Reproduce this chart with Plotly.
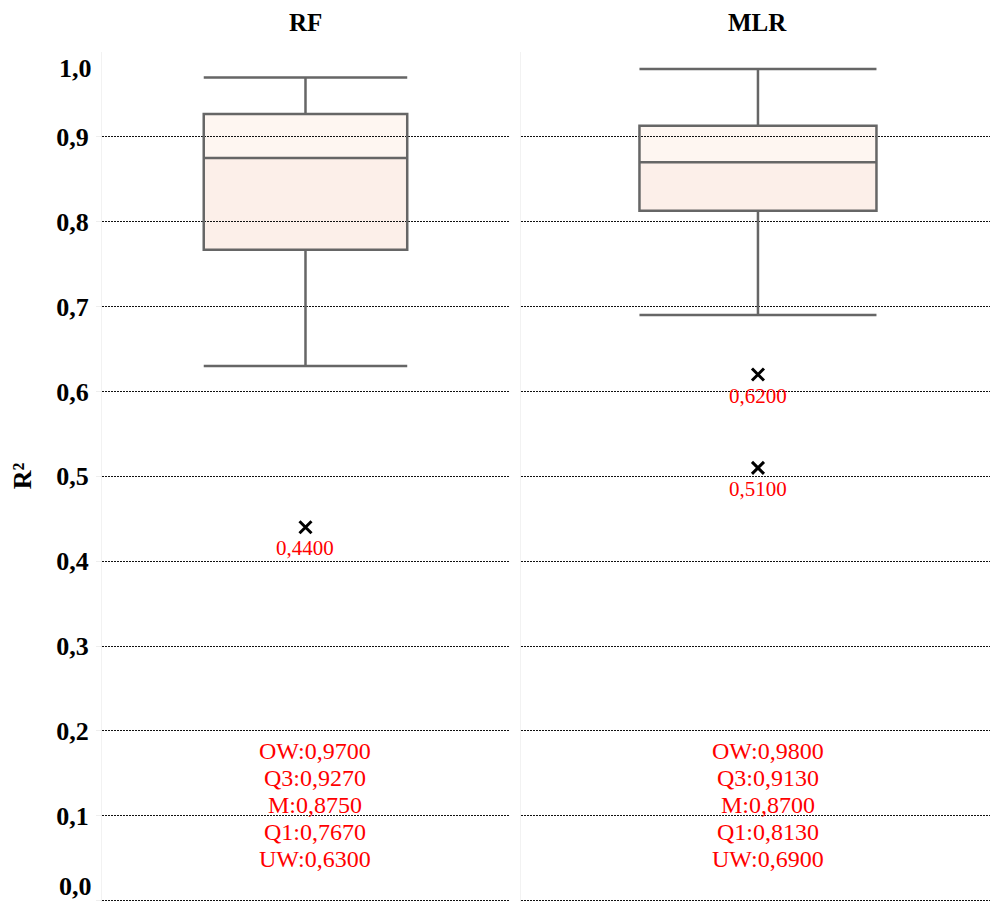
import plotly.graph_objects as go

# Summary statistics of R² per model
models = ["RF", "MLR"]
upper_whisker = [0.97, 0.98]
q3 = [0.927, 0.913]
median = [0.875, 0.870]
q1 = [0.767, 0.813]
lower_whisker = [0.63, 0.69]
outliers = [[0.44], [0.62, 0.51]]

y_ticks = [0.0, 0.1, 0.2, 0.3, 0.4, 0.5, 0.6, 0.7, 0.8, 0.9]

SERIF = "Liberation Serif, Times New Roman, serif"
LINE = "#666666"
FILL_LOW = "#fcefe9"
FILL_HIGH = "#fef6f1"
BOX_W = 0.5


def fmt(v, nd=4):
    return f"{v:.{nd}f}".replace(".", ",")


fig = go.Figure()
domains = [[0.0, 0.4583], [0.4718, 1.0]]
# the second panel runs slightly past the right edge of the page
x_ranges = [[-0.5, 0.5], [-0.5, 0.4895]]

for i, name in enumerate(models):
    xa = "x" if i == 0 else f"x{i + 1}"
    ya = "y" if i == 0 else f"y{i + 1}"
    fig.add_trace(go.Box(
        x=[0], q1=[q1[i]], median=[median[i]], q3=[q3[i]],
        lowerfence=[lower_whisker[i]], upperfence=[upper_whisker[i]],
        width=BOX_W, whiskerwidth=1, boxpoints=False,
        fillcolor="rgba(0,0,0,0)", line=dict(color=LINE, width=2.5),
        xaxis=xa, yaxis=ya, showlegend=False, hoverinfo="skip",
    ))
    # two-tone box body under the gridlines
    for lo, hi, col in [(q1[i], median[i], FILL_LOW), (median[i], q3[i], FILL_HIGH)]:
        fig.add_shape(type="rect", xref=xa, yref=ya, x0=-BOX_W / 2, x1=BOX_W / 2,
                      y0=lo, y1=hi, fillcolor=col, line=dict(width=0), layer="below")
    fig.add_trace(go.Scatter(
        x=[0] * len(outliers[i]), y=outliers[i], mode="markers",
        marker=dict(symbol="x-thin", size=12, line=dict(color="black", width=3)),
        xaxis=xa, yaxis=ya, showlegend=False, hoverinfo="skip",
    ))
    for v in outliers[i]:
        fig.add_annotation(x=0, y=v, xref=xa, yref=ya, text=fmt(v), showarrow=False,
                           yanchor="top", yshift=-7, font=dict(family=SERIF, size=21, color="red"))
    # summary lines, stacked with a fixed 27px pitch
    stats = [f"OW:{fmt(upper_whisker[i])}", f"Q3:{fmt(q3[i])}", f"M:{fmt(median[i])}",
             f"Q1:{fmt(q1[i])}", f"UW:{fmt(lower_whisker[i])}"]
    for k, line in enumerate(stats):
        fig.add_annotation(x=0, y=0.113, xref=xa, yref=ya, text=line, showarrow=False,
                           yanchor="middle", xshift=10, yshift=(2 - k) * 27,
                           font=dict(family=SERIF, size=24, color="red"))
    fig.add_annotation(x=0, y=1, xref=xa, yref="paper", text=f"<b>{name}</b>",
                       showarrow=False, yanchor="middle", yshift=30,
                       font=dict(family=SERIF, size=25, color="black"))

    xkey = "xaxis" if i == 0 else f"xaxis{i + 1}"
    ykey = "yaxis" if i == 0 else f"yaxis{i + 1}"
    fig.update_layout({
        xkey: dict(domain=domains[i], range=x_ranges[i], showticklabels=False,
                   showgrid=False, zeroline=False, anchor=ya),
        ykey: dict(range=[-0.0015, 1], tickvals=y_ticks,
                   ticktext=[""] + [fmt(t, 1) for t in y_ticks[1:]],
                   showticklabels=(i == 0), showgrid=True, gridcolor="#111111",
                   griddash="2px,1px", gridwidth=1, zeroline=False,
                   showline=True, linecolor="#f2f2f2", linewidth=1,
                   ticks="outside" if i == 0 else "", ticklen=5, tickcolor="#eeeeee",
                   ticklabelstandoff=2, anchor=xa,
                   tickfont=dict(family=SERIF, size=26, color="black", weight="bold")),
    })

# edge labels of the value axis sit inside the plot span
fig.add_annotation(x=0, y=0, xref="paper", yref="y", text="<b>0,0</b>", showarrow=False,
                   xanchor="right", yanchor="middle", xshift=-8, yshift=14,
                   font=dict(family=SERIF, size=26, color="black"))
fig.add_annotation(x=0, y=1, xref="paper", yref="y", text="<b>1,0</b>", showarrow=False,
                   xanchor="right", yanchor="middle", xshift=-8, yshift=-16,
                   font=dict(family=SERIF, size=26, color="black"))
fig.add_annotation(x=0, y=0.5, xref="paper", yref="y", text="<b>R²</b>", showarrow=False,
                   xanchor="center", yanchor="middle", xshift=-80, textangle=-90,
                   font=dict(family=SERIF, size=26, color="black"))

fig.update_layout(
    width=990, height=903,
    margin=dict(l=102, r=0, t=52, b=1),
    paper_bgcolor="white", plot_bgcolor="white",
    showlegend=False,
)

fig.write_html("out.html")
